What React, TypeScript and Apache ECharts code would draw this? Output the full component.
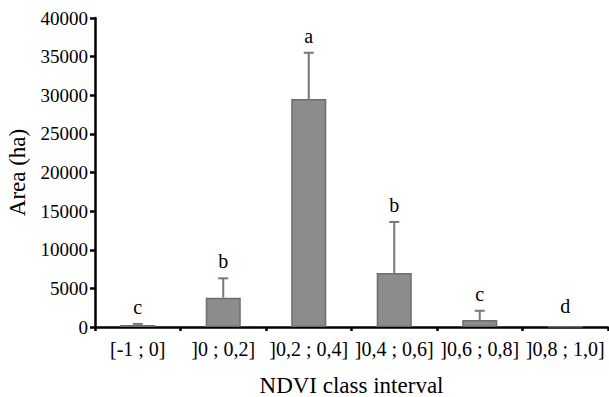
import React, { useEffect, useRef } from "react";
import * as echarts from "echarts";

const categories = ["[-1 ; 0]", "]0 ; 0,2]", "]0,2 ; 0,4]", "]0,4 ; 0,6]", "]0,6 ; 0,8]", "]0,8 ; 1,0]"];
const areaValues = [250, 3800, 29500, 7000, 900, 40];
const errorTops = [400, 6300, 35500, 13600, 2100, 40];
const groupLetters = ["c", "b", "a", "b", "c", "d"];
const yTicks = { min: 0, max: 40000, interval: 5000 };

const FONT = "Liberation Serif";

export default function App() {
  const ref = useRef<HTMLDivElement>(null);
  useEffect(() => {
    const chart = echarts.init(ref.current!, null, { renderer: "svg" });
    const custData = categories.map((_, i) => [i, areaValues[i], errorTops[i], groupLetters[i]]);
    chart.setOption({
      animation: false,
      grid: { left: 95, right: 1, top: 18, bottom: 70, containLabel: false, outerBoundsMode: "none" },
      xAxis: {
        type: "category",
        data: categories,
        name: "NDVI class interval",
        nameLocation: "middle",
        nameGap: 47,
        nameTextStyle: { fontFamily: FONT, fontSize: 23, color: "#000" },
        axisLine: { lineStyle: { color: "#000", width: 2.5 } },
        axisTick: { show: true, length: 4, lineStyle: { color: "#000", width: 2.5 } },
        axisLabel: { fontFamily: FONT, fontSize: 20, color: "#000", margin: 12, interval: 0, hideOverlap: false },
      },
      yAxis: {
        type: "value",
        min: yTicks.min,
        max: yTicks.max,
        interval: yTicks.interval,
        name: "Area (ha)",
        nameLocation: "middle",
        nameGap: 66,
        nameTextStyle: { fontFamily: FONT, fontSize: 23, color: "#000" },
        splitLine: { show: false },
        axisLine: { show: true, lineStyle: { color: "#000", width: 2.5 } },
        axisTick: { show: true, length: 5, lineStyle: { color: "#000", width: 2.5 } },
        axisLabel: {
          fontFamily: FONT,
          fontSize: 19,
          color: "#000",
          margin: 7,
          formatter: (v: number) => String(v),
        },
      },
      series: [
        {
          type: "bar",
          data: areaValues,
          barWidth: "41%",
          itemStyle: { color: "#8c8c8c", borderColor: "#6e6e6e", borderWidth: 1.5 },
          z: 2,
        },
        {
          type: "custom",
          data: custData,
          z: 3,
          renderItem: (params: any, api: any) => {
            const i = api.value(0);
            const v = api.value(1);
            const t = api.value(2);
            const letter = groupLetters[params.dataIndex];
            const pBase = api.coord([i, v]);
            const pTop = api.coord([i, t]);
            const children: any[] = [];
            if (t > v) {
              children.push({
                type: "line",
                shape: { x1: pTop[0], y1: pBase[1], x2: pTop[0], y2: pTop[1] },
                style: { stroke: "#777", lineWidth: 2 },
              });
              children.push({
                type: "line",
                shape: { x1: pTop[0] - 5, y1: pTop[1], x2: pTop[0] + 5, y2: pTop[1] },
                style: { stroke: "#777", lineWidth: 2 },
              });
            }
            children.push({
              type: "text",
              x: pTop[0],
              y: pTop[1] - (t > v ? 17 : 21),
              style: {
                text: letter,
                fontFamily: FONT,
                fontSize: 20,
                fill: "#000",
                align: "center",
                verticalAlign: "middle",
              },
            });
            return { type: "group", children };
          },
        },
      ],
    });
    return () => chart.dispose();
  }, []);
  return <div ref={ref} style={{ width: 609, height: 397, position: "absolute", left: 0, top: 0 }} />;
}
